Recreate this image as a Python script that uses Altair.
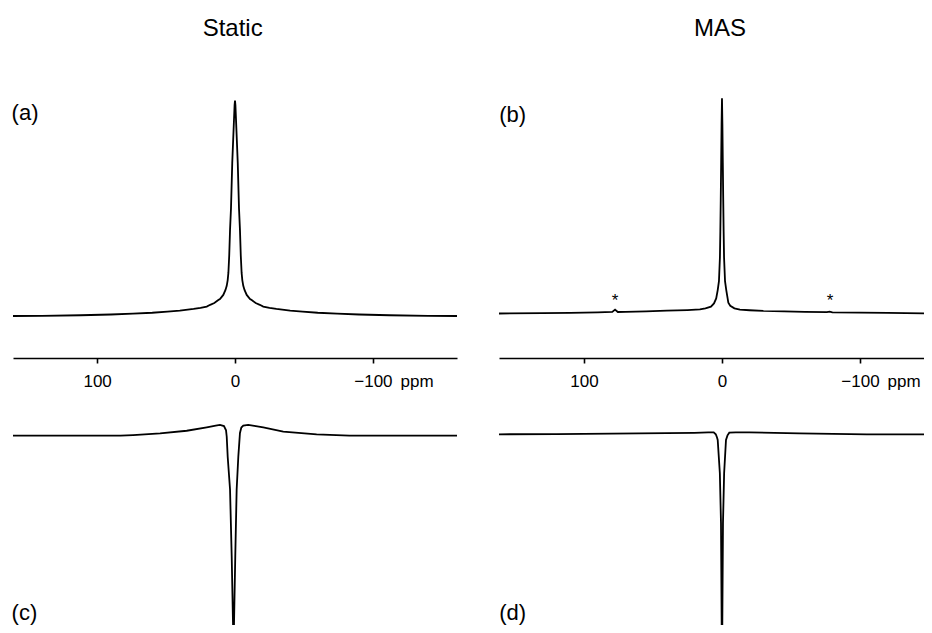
import altair as alt
import pandas as pd

# ---------------- data ----------------
# (a) Static, direct spectrum
A_PPM = [161, 140, 112, 90, 74, 60, 49, 40, 30, 25, 20.5, 18, 15, 12.1, 10.9, 8.5, 6.9, 6.0, 5.3, 4.8, 4.2,
         3.6, 2.9, 2.0, 1.0, 0.3, 0,
         -0.3, -1.0, -2.0, -2.9, -3.6, -4.2, -4.8, -5.3, -6.0, -6.9, -8.5, -10.9, -12.1, -15, -18, -20.5,
         -25, -30, -40, -49, -60, -74, -90, -112, -140, -161]
A_INT = [0, 0.1, 0.35, 0.7, 1.1, 1.5, 2.0, 2.5, 3.3, 3.8, 4.4, 5.2, 6.0, 7.4, 7.9, 9.8, 12.1, 14.0, 16.7, 20, 28,
         40, 50, 71, 87, 98, 100,
         98, 87, 71, 50, 40, 28, 20, 16.7, 14.0, 12.1, 9.8, 7.9, 7.4, 6.0, 5.2, 4.4,
         3.8, 3.3, 2.5, 2.0, 1.5, 1.1, 0.7, 0.35, 0.1, 0]

# (b) MAS, direct spectrum
B_PPM = [161.6, 130, 110, 90, 79.5, 77.5, 75.5, 70, 55, 40, 25, 16, 12, 8, 5.8, 4.2, 3.1, 2.2, 1.5, 1.2, 0.9,
         0.6, 0.3, 0,
         -0.3, -0.6, -0.9, -1.2, -1.5, -2.2, -3.1, -4.6, -6, -9, -13, -20, -30, -45, -60, -76, -78, -80,
         -100, -120, -146.4]
B_INT = [0, 0.2, 0.3, 0.5, 0.75, 1.8, 0.7, 0.75, 1.0, 1.3, 1.6, 1.9, 2.4, 3.2, 4.7, 7, 10.9, 15, 26, 38, 53,
         70, 88, 100,
         88, 70, 53, 38, 26, 15, 10.9, 5, 3.6, 2.4, 1.8, 1.5, 1.2, 1.0, 0.8, 0.6, 0.9, 0.55,
         0.4, 0.25, 0.1]

# (c) Static, difference spectrum
C_PPM = [161, 120, 83, 73.9, 54.3, 35, 20.5, 14, 10.9, 8.0, 6.5, 6.0, 5.3, 3.6, 2.4, 1.45, 1.1,
         0.7, -0.2, -1.2, -2.4, -3.6, -4.6, -6.0, -9.6, -14, -20.5, -35, -59.2, -83, -120, -161]
C_INT = [0, 0, 0, 0.3, 1.1, 2.3, 3.9, 4.7, 5.0, 4.5, 2.5, -0.5, -9.8, -25, -56, -87, -99,
         -87, -56, -25, -9.8, 1.3, 3.8, 4.65, 5.0, 4.6, 3.9, 1.9, 0.65, 0, 0, 0]

# (d) MAS, difference spectrum
D_PPM = [161.6, 120, 80, 40, 20, 10, 6, 4.5, 3.6, 3.1, 1.55, 0.72, 0.2, 0,
         -0.2, -0.72, -1.55, -2.9, -4.0, -5.3, -10, -19.8, -56, -105, -146.4]
D_INT = [0, 0.1, 0.3, 0.5, 0.7, 0.9, 0.9, 0, -1.5, -2.65, -18.1, -41.4, -91.8, -100,
         -91.8, -41.4, -18.1, -2.65, -0.5, 0.75, 0.9, 0.9, 0.45, 0, 0]

# annotations (data units of their panel)
TITLE_TEXT = ["Static", "MAS"]
TITLE_PANEL = ["a", "b"]
TITLE_PPM = [1.7, 1.5]
TITLE_INT = [130, 129]

LABEL_TEXT = ["(a)", "(b)", "(c)", "(d)"]
LABEL_PANEL = ["a", "b", "c", "d"]
LABEL_PPM = [162, 161.4, 162, 161.4]
LABEL_INT = [91.2, 89, -85.8, -86.6]

UNIT_TEXT = ["ppm", "ppm"]
UNIT_PANEL = ["a", "b"]
UNIT_PPM = [-132, -132]
UNIT_INT = [-33, -34.2]

STAR_TEXT = ["*", "*"]
STAR_PANEL = ["b", "b"]
STAR_PPM = [77.5, -78.3]
STAR_INT = [3.6, 3.6]

TICKS = [100, 0, -100]

# ---------------- layout ----------------
W, H = 916, 617
AXIS_Y = 350
FONT = "Liberation Sans"

GEOM = {
    "a": dict(xd=[161, -161], xr=[5, 449], yd=[0, 100], yr=[308, 92.7]),
    "b": dict(xd=[161.6, -146.4], xr=[491, 916], yd=[0, 100], yr=[305.5, 90.3]),
    "c": dict(xd=[161, -161], xr=[5, 449], yd=[-92, 0], yr=[625.5, 427.7]),
    "d": dict(xd=[161.6, -146.4], xr=[491, 916], yd=[-92, 0], yr=[624.1, 426.3]),
}


def xs(p):
    g = GEOM[p]
    return alt.Scale(domain=g["xd"], range=g["xr"], nice=False, zero=False)


def ys(p):
    g = GEOM[p]
    return alt.Scale(domain=g["yd"], range=g["yr"], nice=False, zero=False)


curves = {"a": (A_PPM, A_INT), "b": (B_PPM, B_INT), "c": (C_PPM, C_INT), "d": (D_PPM, D_INT)}

layers = []
for p, (ppm, inten) in curves.items():
    df = pd.DataFrame({"ppm": ppm, "i": inten})
    if p in ("a", "b"):
        axis = alt.Axis(orient="bottom", offset=AXIS_Y - H, values=TICKS, format="d",
                        labelFont=FONT, labelFontSize=17, labelColor="black",
                        labelPadding=10, labelFlush=False, labelOverlap=False,
                        domainColor="black", domainWidth=1.6,
                        tickColor="black", tickWidth=1.6, tickSize=5,
                        grid=False, title=None)
    else:
        axis = None
    layers.append(
        alt.Chart(df).mark_line(color="black", strokeWidth=1.8, clip=True).encode(
            x=alt.X("ppm:Q", scale=xs(p), axis=axis),
            y=alt.Y("i:Q", scale=ys(p), axis=None),
            order=alt.Order("ppm:Q"),
        )
    )


def text_layers(texts, panels, ppms, ints, size, align):
    out = []
    df = pd.DataFrame({"t": texts, "panel": panels, "ppm": ppms, "i": ints})
    for p in sorted(set(panels)):
        sub = df[df.panel == p]
        out.append(
            alt.Chart(sub).mark_text(font=FONT, fontSize=size, align=align,
                                     baseline="alphabetic", color="black").encode(
                x=alt.X("ppm:Q", scale=xs(p), axis=None),
                y=alt.Y("i:Q", scale=ys(p), axis=None),
                text="t:N",
            )
        )
    return out


layers += text_layers(TITLE_TEXT, TITLE_PANEL, TITLE_PPM, TITLE_INT, 24, "center")
layers += text_layers(LABEL_TEXT, LABEL_PANEL, LABEL_PPM, LABEL_INT, 22, "left")
layers += text_layers(UNIT_TEXT, UNIT_PANEL, UNIT_PPM, UNIT_INT, 17, "center")
layers += text_layers(STAR_TEXT, STAR_PANEL, STAR_PPM, STAR_INT, 17, "center")

chart = alt.layer(*layers).resolve_scale(x="independent", y="independent").resolve_axis(
    x="independent", y="independent"
).properties(
    width=W, height=H, padding=0, background="white",
    autosize=alt.AutoSizeParams(type="none"),
).configure_view(stroke=None)

chart.save("out.html", embed_options={"renderer": "svg", "actions": False})
